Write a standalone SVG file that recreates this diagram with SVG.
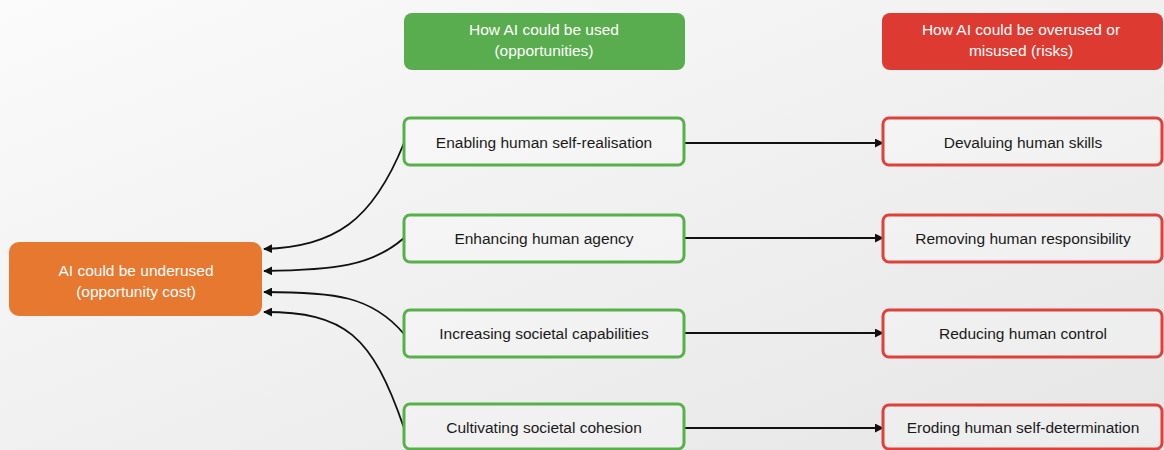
<svg xmlns="http://www.w3.org/2000/svg" width="1164" height="450" viewBox="0 0 1164 450">
<defs>
<linearGradient id="bg" x1="0" y1="0" x2="1" y2="1">
<stop offset="0" stop-color="#fbfbfb"/>
<stop offset="1" stop-color="#e6e6e6"/>
</linearGradient>
<marker id="ah" viewBox="0 0 10 10" refX="9" refY="5" markerWidth="9" markerHeight="9" markerUnits="userSpaceOnUse" orient="auto">
<path d="M0,0 L10,5 L0,10 z" fill="#111"/>
</marker>
</defs>
<style>
.t{font-family:"Liberation Sans",Arial,sans-serif;font-size:15.5px;text-anchor:middle;}
.w{fill:#fff;font-size:15.5px;}
.d{fill:#1a1a1a;}
.g{fill:#ffffff;fill-opacity:0.25;stroke:#58b04a;stroke-width:3;}
.r{fill:#ffffff;fill-opacity:0.25;stroke:#e0403a;stroke-width:3;}
.c{fill:none;stroke:#111;stroke-width:1.8;marker-end:url(#ah);}
</style>
<rect width="1164" height="450" fill="url(#bg)"/>

<g id="connectors">
<path class="c" d="M404,143 C372,222 335,246 264,249"/>
<path class="c" d="M404,238 C372,266 335,270 264,271"/>
<path class="c" d="M404,334 C372,296 335,292 264,292"/>
<path class="c" d="M404,428 C372,335 345,312 264,312"/>
<path class="c" d="M685,143 L883,143"/>
<path class="c" d="M685,238 L883,238"/>
<path class="c" d="M685,333 L883,333"/>
<path class="c" d="M685,428 L883,428"/>
</g>

<g id="header-opportunities">
<rect x="404" y="13" width="281" height="57" rx="8" fill="#5aad4e"/>
<text class="t w" x="544" y="35">How AI could be used</text>
<text class="t w" x="544" y="56">(opportunities)</text>
</g>
<g id="header-risks">
<rect x="882" y="13" width="281" height="57" rx="8" fill="#dd3a31"/>
<text class="t w" x="1021" y="35">How AI could be overused or</text>
<text class="t w" x="1021" y="56">misused (risks)</text>
</g>

<g id="underused">
<rect x="9" y="242" width="253" height="74" rx="10" fill="#e67830"/>
<text class="t w" x="136" y="276">AI could be underused</text>
<text class="t w" x="136" y="297">(opportunity cost)</text>
</g>

<g id="opp1"><rect class="g" x="404" y="118" width="280" height="47" rx="6"/><text class="t d" x="544" y="148">Enabling human self-realisation</text></g>
<g id="opp2"><rect class="g" x="404" y="215" width="280" height="47" rx="6"/><text class="t d" x="544" y="244">Enhancing human agency</text></g>
<g id="opp3"><rect class="g" x="404" y="310" width="280" height="47" rx="6"/><text class="t d" x="544" y="339">Increasing societal capabilities</text></g>
<g id="opp4"><rect class="g" x="404" y="404" width="280" height="45" rx="6"/><text class="t d" x="544" y="433">Cultivating societal cohesion</text></g>

<g id="risk1"><rect class="r" x="883" y="118" width="279" height="47" rx="6"/><text class="t d" x="1023" y="148">Devaluing human skills</text></g>
<g id="risk2"><rect class="r" x="883" y="215" width="279" height="47" rx="6"/><text class="t d" x="1023" y="244">Removing human responsibility</text></g>
<g id="risk3"><rect class="r" x="883" y="310" width="279" height="47" rx="6"/><text class="t d" x="1023" y="339">Reducing human control</text></g>
<g id="risk4"><rect class="r" x="883" y="405" width="279" height="44" rx="6"/><text class="t d" x="1023" y="433">Eroding human self-determination</text></g>
</svg>
